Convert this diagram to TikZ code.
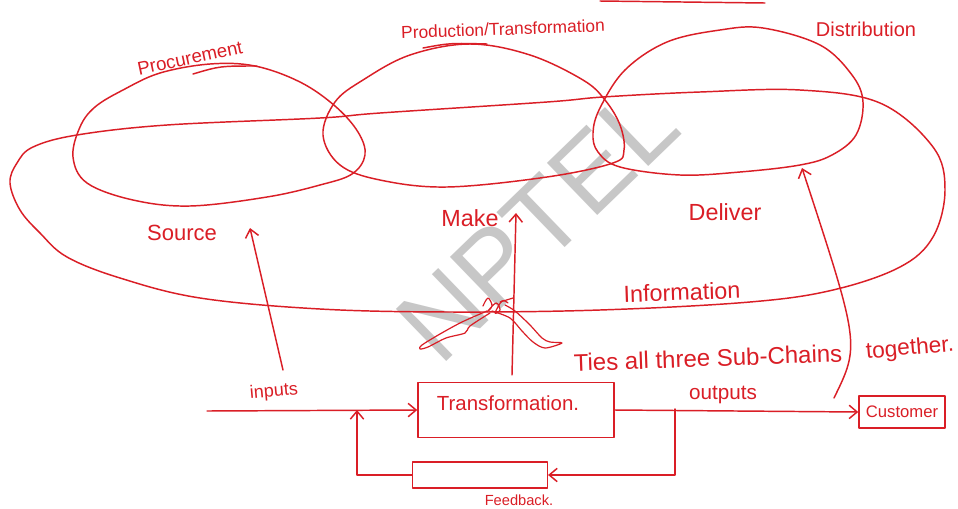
\documentclass[tikz,border=0pt]{standalone}
\usepackage{fontspec}
\setmainfont{Liberation Sans}
\usetikzlibrary{arrows.meta}
\definecolor{ink}{RGB}{218,30,38}
\begin{document}
\begin{tikzpicture}[x=0.75pt,y=-0.75pt,
  pen/.style={draw=ink,line width=1.1pt,line cap=round,line join=round},
  arr/.style={pen,-{Straight Barb[length=6pt,width=10pt,line width=1.1pt]}},
  lbl/.style={text=ink,inner sep=0pt,font=\fontsize{#1}{#1}\selectfont},
  box/.style={pen,rectangle,inner sep=0pt},
]
\fill[white] (0,0) rectangle (958,508);
\useasboundingbox (0,0) rectangle (958,508);

% watermark
\node[text=black!22,inner sep=0pt,font=\fontsize{79}{79}\selectfont,rotate=44] (wm) at (537,224) {NPTEL};

% stroke at top edge
\draw[pen] (600,1) -- (765,3);

% Information loop
\draw[pen] plot[smooth cycle,tension=0.6] coordinates {
 (77,135) (167,125) (320,118) (380,113) (547,102) (603,97) (700,92) (800,90)
 (880,103) (933,147) (945,190) (933,237) (900,267) (833,290) (750,302)
 (600,310) (450,312) (320,309) (200,298) (120,278) (67,257) (40,233)
 (20,210) (10,183) (17,163) (33,147)};

% Procurement
\draw[pen] plot[smooth cycle,tension=0.6] coordinates {
 (73,157) (80,127) (95,107) (123,90) (160,73) (210,64) (255,66) (300,82)
 (335,106) (358,132) (365,155) (352,174) (320,185) (267,197) (190,206)
 (133,200) (87,183)};
\draw[pen] (193,74) .. controls (220,66) .. (257,66);

% Production
\draw[pen] plot[smooth cycle,tension=0.6] coordinates {
 (323,135) (335,102) (363,80) (410,55) (470,44) (530,55) (583,80) (605,100)
 (620,125) (624,150) (613,163) (547,177) (447,187) (380,180) (340,165)};
\draw[pen] (423,48) .. controls (450,43) .. (487,44);

% Distribution
\draw[pen] plot[smooth cycle,tension=0.6] coordinates {
 (593,133) (600,108) (625,70) (667,42) (720,30) (763,28) (820,45) (852,75)
 (863,102) (856,135) (832,155) (800,165) (740,172) (680,175) (620,167)
 (598,152)};

% top labels
\node[lbl=14,rotate=12] (lproc) at (190,58) {Procurement};
\node[lbl=13,rotate=2] (lprod) at (503,29) {Production/Transformation};
\node[lbl=15] (ldist) at (866,29) {Distribution};

% middle labels
\node[lbl=16.5] (lsrc) at (182,233) {Source};
\node[lbl=17.5] (lmake) at (470,218) {Make};
\node[lbl=17.5] (ldel) at (725,212) {Deliver};
\node[lbl=17.5,rotate=2] (linfo) at (682,292) {Information};

% boxes
\node[box,minimum width=147pt,minimum height=41pt] (tbox) at (516,410) {};
\node[lbl=15.3] (ttxt) at (508,403) {Transformation.};
\node[box,minimum width=64.5pt,minimum height=24pt,lbl=12.5] (cbox) at (902,412) {Customer};
\node[box,minimum width=101pt,minimum height=19.5pt] (fbox) at (480,475) {};

% texts near boxes
\node[lbl=13.5,rotate=5] (linp) at (274,392) {inputs};
\node[lbl=15.5] (lout) at (723,395) {outputs};
\node[lbl=11] (lfb) at (519,500) {Feedback.};
\node[lbl=18,rotate=2] (lties) at (708,358) {Ties all three Sub-Chains};
\node[lbl=17,rotate=5] (ltog) at (910,349) {together.};

% scribble
\draw[pen,line width=0.9pt] plot[smooth,tension=0.5] coordinates {
 (487,311) (462,322) (440,334) (422,345) (420,349) (428,347) (446,338)
 (465,333) (470,326) (490,313)};
\draw[pen,line width=0.9pt] plot[smooth,tension=0.5] coordinates {
 (492,311) (510,318) (522,331) (533,342) (545,348) (562,343) (550,342)
 (542,338) (530,325) (515,311) (505,305)};
\draw[pen,line width=0.9pt] plot[smooth,tension=0.6] coordinates {
 (483,306) (488,298) (492,306) (487,312) (496,303) (500,310) (495,313)
 (502,301) (508,303)};
\draw[pen,line width=0.9pt] (500,302) -- (513,298);

% coordinates for free ends
\coordinate (inStart) at (207,411);
\coordinate (fbTurn) at (675,409);
\coordinate (fbIn) at (357,410);
\coordinate (srcFoot) at (283,370);
\coordinate (srcTip) at (250,228);
\coordinate (makeFoot) at (512,375);
\coordinate (makeTip) at (516,213);
\coordinate (delFoot) at (834,398);
\coordinate (delTip) at (802,168);

% connectors
\draw[arr] (inStart) -- (tbox.west);
\draw[arr] (tbox.east) -- (cbox.west);
\draw[arr] (fbTurn) |- (fbox.east);
\draw[arr] (fbox.west) -| (fbIn);
\draw[arr] (srcFoot) -- (srcTip);
\draw[arr] (makeFoot) -- (makeTip);
\draw[arr] (delFoot) .. controls (860,345) .. (delTip);
\end{tikzpicture}
\end{document}
